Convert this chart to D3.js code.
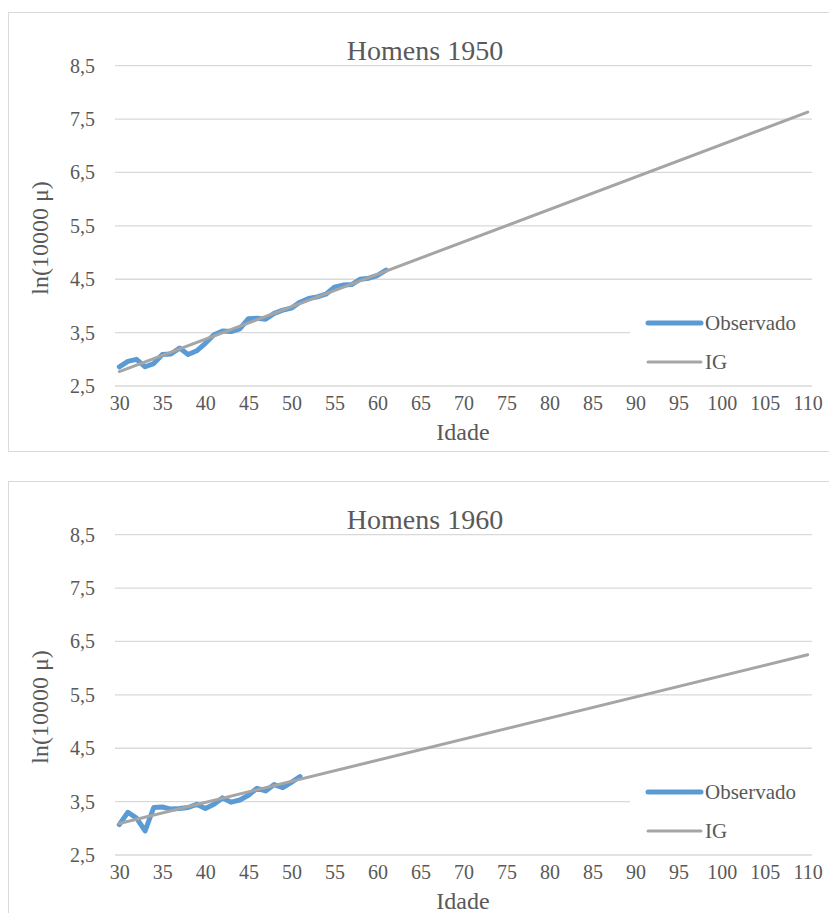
<!DOCTYPE html>
<html>
<head>
<meta charset="utf-8">
<script src="https://cdn.jsdelivr.net/npm/d3@7"></script>
<style>
  body { margin: 0; background: #fff; }
  svg text { font-family: "Liberation Serif", "DejaVu Serif", "Times New Roman", serif !important; fill: #595959; }
</style>
</head>
<body>
<div id="chart"></div>
<script>
// Data
var ages = d3.range(30, 111);            // category axis, 30..110
var tickAges = d3.range(30, 111, 5);     // labelled categories
var yTicks = [2.5, 3.5, 4.5, 5.5, 6.5, 7.5, 8.5];
var titles = ["Homens 1950", "Homens 1960"];
var seriesNames = ["Observado", "IG"];

var obsAges1950 = d3.range(30, 62);
var obs1950 = [2.86, 2.96, 3.00, 2.86, 2.92, 3.09, 3.10, 3.21, 3.09, 3.16,
               3.30, 3.46, 3.53, 3.52, 3.57, 3.76, 3.77, 3.75, 3.86, 3.92,
               3.96, 4.07, 4.14, 4.17, 4.22, 4.35, 4.39, 4.40, 4.50, 4.52,
               4.57, 4.67];
var obsAges1960 = d3.range(30, 52);
var obs1960 = [3.07, 3.30, 3.19, 2.95, 3.39, 3.40, 3.36, 3.37, 3.39, 3.45,
               3.37, 3.45, 3.57, 3.49, 3.53, 3.62, 3.75, 3.70, 3.82, 3.76,
               3.86, 3.97];

// IG (Gompertz) fit is a straight line in ln scale: its two end points
var igAges = [30, 110];
var ig1950 = [2.77, 7.63];
var ig1960 = [3.09, 6.25];

var svgWidth = 829;
var svgHeight = 913;
var panelOffset = 469;
var serif = "'Liberation Serif', 'DejaVu Serif', serif";

var svg = d3.select("#chart")
  .append("svg")
  .attr("width", svgWidth)
  .attr("height", svgHeight);

var ptLocale = d3.formatLocale({decimal: ",", thousands: ".", grouping: [3], currency: ["", ""]});
var fmt = ptLocale.format(".1f");

function drawPanel(top, title, obsAges, obsVals, igVals) {
  var g = svg.append("g")
    .attr("transform", `translate(0, ${top})`)
    .attr("font-family", serif);

  // chart frame
  g.append("rect")
    .attr("x", 8.5).attr("y", 12.5)
    .attr("width", 840).attr("height", 439)
    .attr("fill", "#fff")
    .attr("stroke", "#d9d9d9");

  var x = d3.scalePoint()
    .domain(ages)
    .range([115, 812])
    .padding(0.5);

  var y = d3.scaleLinear()
    .domain([2.5, 8.5])
    .range([386, 65.7]);

  // gridlines
  g.append("g").selectAll("line")
    .data(yTicks)
    .join("line")
    .attr("x1", 115).attr("x2", 812)
    .attr("y1", d => y(d)).attr("y2", d => y(d))
    .attr("stroke", "#d9d9d9")
    .attr("stroke-width", 1.3);

  // y axis labels
  var yAxis = d3.axisLeft(y).tickValues(yTicks).tickFormat(fmt).tickSize(0).tickPadding(20);
  g.append("g")
    .attr("transform", "translate(115,0)")
    .call(yAxis)
    .attr("font-family", serif)
    .call(a => a.select(".domain").remove())
    .selectAll("text")
    .attr("font-size", 20)
    .attr("fill", "#595959");

  // x axis labels
  var xAxis = d3.axisBottom(x).tickValues(tickAges).tickSize(0).tickPadding(10);
  g.append("g")
    .attr("transform", "translate(0,386)")
    .call(xAxis)
    .attr("font-family", serif)
    .call(a => a.select(".domain").remove())
    .selectAll("text")
    .attr("font-size", 20)
    .attr("fill", "#595959");

  // series
  var line = d3.line()
    .x(d => x(d[0]))
    .y(d => y(d[1]));

  g.append("path")
    .datum(d3.zip(obsAges, obsVals))
    .attr("d", line)
    .attr("fill", "none")
    .attr("stroke", "#5b9bd5")
    .attr("stroke-width", 5)
    .attr("stroke-linejoin", "round")
    .attr("stroke-linecap", "round");

  g.append("path")
    .datum(d3.zip(igAges, igVals))
    .attr("d", line)
    .attr("fill", "none")
    .attr("stroke", "#a5a5a5")
    .attr("stroke-width", 3)
    .attr("stroke-linecap", "round");

  // legend (white box over the plot)
  var lg = g.append("g");
  lg.append("rect")
    .attr("x", 630).attr("y", 302)
    .attr("width", 199).attr("height", 78)
    .attr("fill", "#fff");
  var legendItems = [
    {name: seriesNames[0], color: "#5b9bd5", w: 5, y: 323},
    {name: seriesNames[1], color: "#a5a5a5", w: 3, y: 362}
  ];
  legendItems.forEach(function(it) {
    lg.append("line")
      .attr("x1", 648).attr("x2", 701)
      .attr("y1", it.y).attr("y2", it.y)
      .attr("stroke", it.color)
      .attr("stroke-width", it.w)
      .attr("stroke-linecap", "round");
    lg.append("text")
      .attr("x", 705).attr("y", it.y)
      .attr("dy", "0.35em")
      .attr("font-size", 21)
      .text(it.name);
  });

  // titles
  g.append("text")
    .attr("x", 425).attr("y", 60)
    .attr("text-anchor", "middle")
    .attr("font-size", 28)
    .text(title);

  g.append("text")
    .attr("x", 463).attr("y", 440)
    .attr("text-anchor", "middle")
    .attr("font-size", 24)
    .text("Idade");

  g.append("text")
    .attr("transform", "translate(40,238) rotate(-90)")
    .attr("text-anchor", "middle")
    .attr("dominant-baseline", "central")
    .attr("font-size", 24)
    .text("ln(10000 μ)");
}

drawPanel(0, titles[0], obsAges1950, obs1950, ig1950);
drawPanel(panelOffset, titles[1], obsAges1960, obs1960, ig1960);
</script>
</body>
</html>
